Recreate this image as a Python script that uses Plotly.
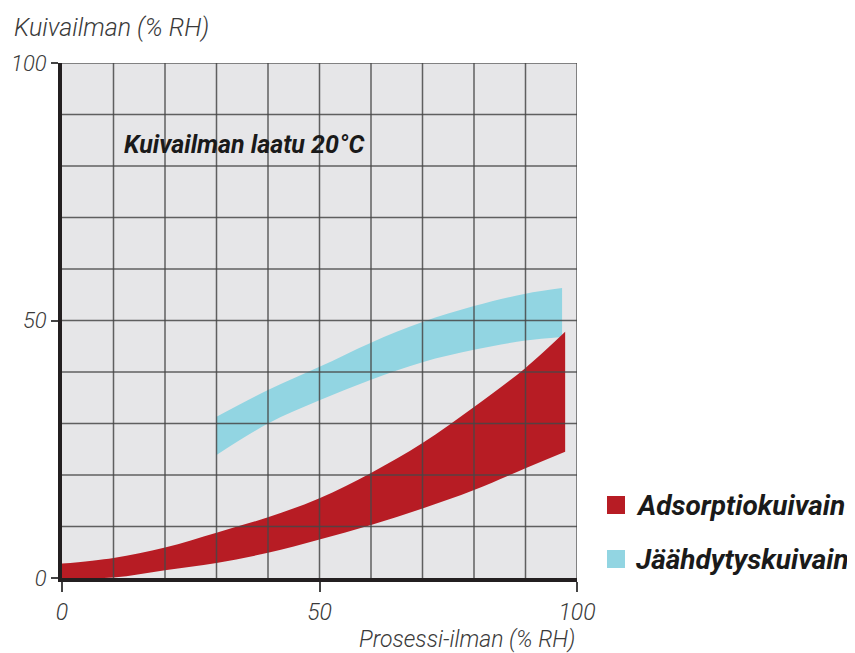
import plotly.graph_objects as go

# --- data ---
adsorp_x = [0, 10, 20, 30, 40, 50, 60, 70, 80, 90, 97.7]
adsorp_upper = [2.8, 3.9, 5.9, 8.8, 11.8, 15.5, 20.4, 26.2, 33.2, 40.8, 47.8]
adsorp_lower = [0.0, 0.1, 1.5, 2.9, 4.9, 7.5, 10.3, 13.5, 17.1, 21.3, 24.5]

cool_x = [30, 40, 50, 60, 70, 80, 90, 97.1]
cool_upper = [31.3, 36.5, 41.0, 45.7, 49.7, 52.8, 55.2, 56.3]
cool_lower = [23.9, 30.0, 34.5, 38.5, 41.9, 44.3, 46.1, 46.8]

tick_vals = [0, 50, 100]
grid_vals = [10, 20, 30, 40, 50, 60, 70, 80, 90, 100]

series_names = ["Adsorptiokuivain", "Jäähdytyskuivain"]
RED = "#b71c24"
BLUE = "#92d5e2"

FONT = "Roboto"
TXT = "#3a3a3a"

fig = go.Figure()

def band(x, lo, hi, color, name):
    fig.add_trace(go.Scatter(x=x, y=lo, mode="lines", line=dict(width=0, shape="spline", color=color),
                             showlegend=False, hoverinfo="skip"))
    fig.add_trace(go.Scatter(x=x, y=hi, mode="lines", line=dict(width=0, shape="spline", color=color),
                             fill="tonexty", fillcolor=color, name=name, showlegend=False))

band(cool_x, cool_lower, cool_upper, BLUE, series_names[1])
band(adsorp_x, adsorp_lower, adsorp_upper, RED, series_names[0])

# grid lines drawn above the bands
for g in grid_vals:
    fig.add_shape(type="line", xref="x", yref="y", x0=g, x1=g, y0=0, y1=100,
                  line=dict(color="rgba(70,70,70,0.85)", width=1.5), layer="above")
    fig.add_shape(type="line", xref="x", yref="y", x0=0, x1=100, y0=g, y1=g,
                  line=dict(color="rgba(70,70,70,0.85)", width=1.5), layer="above")

tick_font = dict(family=FONT, size=23, color=TXT, style="italic", weight=300)
ytick_font = dict(family=FONT, size=22, color=TXT, style="italic", weight=300)
title_font = dict(family=FONT, size=25, color=TXT, style="italic", weight=300)
xtitle_font = dict(family=FONT, size=23, color=TXT, style="italic", weight=300)

common = dict(range=[0, 100], tickvals=tick_vals, ticks="outside", tickwidth=1.5,
              tickcolor="#444", showgrid=False, zeroline=False, showline=True,
              linecolor="#231f20", linewidth=4, fixedrange=True, automargin=False)
fig.update_xaxes(ticklen=10, tickfont=tick_font, **common)
fig.update_yaxes(ticklen=7, tickfont=ytick_font, **common)

fig.add_annotation(text="Kuivailman (% RH)", xref="paper", yref="paper", x=-0.097, y=1.068,
                   xanchor="left", yanchor="middle", showarrow=False, font=title_font)
fig.add_annotation(text="Prosessi-ilman (% RH)", xref="paper", yref="paper", x=1.0, y=-0.12,
                   xanchor="right", yanchor="middle", showarrow=False, font=xtitle_font)
fig.add_annotation(text="<b>Kuivailman laatu 20°C</b>", xref="x", yref="y", x=11.6, y=84.2,
                   xanchor="left", yanchor="middle", showarrow=False,
                   font=dict(family=FONT, size=25, color="#1a1a1a", style="italic"))

# legend (manual)
leg = [(series_names[0], RED, 505), (series_names[1], BLUE, 559)]
for name, col, py in leg:
    yc = (578 - py) / 515
    fig.add_shape(type="rect", xref="paper", yref="paper",
                  x0=(607 - 62) / 515, x1=(625 - 62) / 515,
                  y0=yc - 9 / 515, y1=yc + 9 / 515, fillcolor=col, line=dict(width=0))
    fig.add_annotation(text="<b>" + name + "</b>", xref="paper", yref="paper",
                       x=(634 - 62) / 515, y=yc, xanchor="left", yanchor="middle", showarrow=False,
                       font=dict(family=FONT, size=28, color="#1a1a1a", style="italic"))

# page body adds an 8px margin, so the figure is 8px smaller and shifted
fig.update_layout(
    width=847, height=645,
    margin=dict(l=54, r=278, t=55, b=75, autoexpand=False),
    paper_bgcolor="white", plot_bgcolor="#e6e6e8",
    showlegend=False,
)

fig.write_html("out.html")
